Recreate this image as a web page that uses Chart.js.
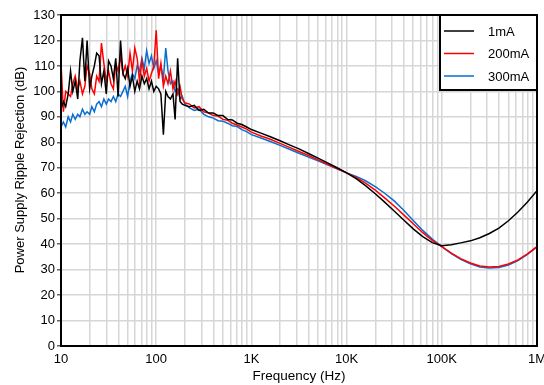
<!DOCTYPE html>
<html>
<head>
<meta charset="utf-8">
<script src="https://cdn.jsdelivr.net/npm/chart.js@4"></script>
<style>
  html, body { margin: 0; padding: 0; background: #fff; }
  canvas { display: block; }
</style>
</head>
<body>
<canvas id="psrrChart" width="544" height="385"></canvas>
<script>
// frequency points (Hz)
const freqs = [
    10, 10.6, 11.2, 11.9, 12.6, 13.3, 14.1, 15, 15.8, 16.8, 17.8, 18.8,
    20, 21.1, 22.4, 23.7, 25.1, 26.6, 28.2, 29.9, 31.6, 33.5, 35.5, 37.6,
    39.8, 42.2, 44.7, 47.3, 50.1, 53.1, 56.2, 59.6, 63.1, 66.8, 70.8, 75,
    79.4, 84.1, 89.1, 94.4, 100, 106, 112, 119, 126, 133, 141, 150,
    158, 168, 178, 188, 200,
    224, 251, 282, 316, 355, 398, 447, 501, 562, 631, 708, 794, 891, 1000,
    1260, 1580, 2000, 2510, 3160, 3980, 5010, 6310, 7940, 10000,
    12600, 15800, 20000, 25100, 31600, 39800, 50100, 63100, 79400, 100000,
    126000, 158000, 200000, 251000, 316000, 398000, 501000, 631000, 794000, 1000000
];

// PSRR (dB) per load current
const psrr1mA = [
    93, 96, 94, 99, 108, 100, 104, 97, 112, 121, 104, 120,
    101, 106, 110, 115, 114, 103, 108, 99, 112, 110, 105, 113,
    98, 120, 107, 105, 109, 102, 106, 100, 104, 101, 106, 103,
    105, 101, 104, 100, 102, 101, 99, 83, 100, 98, 97, 99,
    89, 113, 96, 95, 94.5,
    94, 94.5, 92.5, 93, 91.5, 91.5, 90.5, 90.5, 89, 88.8, 87.5, 87, 86, 85,
    83.6, 82.2, 80.6, 79, 77.4, 75.6, 73.8, 71.9, 70, 68,
    65.7, 63, 59.8, 56.5, 53, 49.5, 46, 43, 40.6, 39.4,
    39.8, 40.5, 41.3, 42.5, 44.2, 46.3, 49.2, 52.6, 56.6, 61
];

const psrr200mA = [
    111, 92, 100, 99, 98, 103, 106, 101, 104, 99, 102, 110,
    107, 101, 99, 106, 104, 119, 111, 104, 108, 103, 101, 111,
    108, 114, 107, 110, 106, 115, 108, 117, 113, 104, 112, 106,
    109, 104, 107, 110, 124, 105, 111, 102, 106, 103, 108, 101,
    104, 99, 102, 97, 95.5,
    95, 93.5, 94, 92, 91.5, 90.5, 90.3, 89, 88.7, 87.5, 86.8, 86, 85.2, 84,
    82.5, 81.2, 79.6, 78, 76.4, 74.8, 73.1, 71.4, 69.7, 68,
    66.2, 64, 61.2, 58.2, 55, 51.5, 48, 44.5, 41.5, 39,
    36.5, 34.3, 32.6, 31.4, 31, 31.2, 32.2, 33.8, 36.2, 39
];

const psrr300mA = [
    86, 88, 86, 90, 88, 91, 89, 91, 90, 93, 91, 92,
    91, 94, 92, 95, 96, 94, 97, 95, 97, 96, 98, 96,
    99, 98, 100, 102, 98, 104, 107, 105, 110, 108, 113, 109,
    116, 111, 114, 109, 112, 107, 110, 105, 117, 108, 103, 104,
    100, 101, 97, 98, 95,
    93.5, 92.5, 93, 91, 90, 89.5, 88.5, 88.3, 87.5, 86.5, 86.2, 85, 84.2, 83,
    81.7, 80.3, 78.8, 77.3, 75.7, 74.2, 72.7, 71.2, 69.6, 68,
    66.6, 64.9, 62.6, 60, 57, 53.3, 49.3, 45.4, 42, 39,
    36.3, 34, 32.3, 31, 30.6, 30.8, 31.8, 33.5, 36, 39
];

const seriesNames = ['1mA', '200mA', '300mA'];
const seriesColors = ['#000000', '#ff0000', '#0a6ed1'];

// axis ticks
const xDecades = [10, 100, 1000, 10000, 100000, 1000000];
const xDecadeLabels = ['10', '100', '1K', '10K', '100K', '1M'];
const yTicks = [0, 10, 20, 30, 40, 50, 60, 70, 80, 90, 100, 110, 120, 130];
const yTitle = 'Power Supply Ripple Rejection (dB)';

const FONT = '"Liberation Sans", Arial, sans-serif';

function toPoints(values) {
    return freqs.map((f, i) => ({ x: f, y: values[i] }));
}

const allSeries = [psrr1mA, psrr200mA, psrr300mA];

// thick frame around the plot, the y title and the boxed legend
const framePlugin = {
    id: 'frameAndLegend',
    afterDraw(chart) {
        const ctx = chart.ctx;
        const a = chart.chartArea;
        ctx.save();
        ctx.strokeStyle = '#000';
        ctx.lineWidth = 2;
        ctx.strokeRect(a.left, a.top, a.right - a.left, a.bottom - a.top);

        // y axis title (sits a bit above the plot centre in the original)
        ctx.save();
        ctx.translate(20, 170);
        ctx.rotate(-Math.PI / 2);
        ctx.font = '13px ' + FONT;
        ctx.fillStyle = '#000';
        ctx.textAlign = 'center';
        ctx.textBaseline = 'middle';
        ctx.fillText(yTitle, 0, 0);
        ctx.restore();

        const boxW = 97, boxH = 75;
        const bx = a.right - boxW, by = a.top;
        ctx.fillStyle = '#fff';
        ctx.fillRect(bx, by, boxW, boxH);
        ctx.strokeRect(bx, by, boxW, boxH);

        ctx.font = '13px ' + FONT;
        ctx.textBaseline = 'middle';
        ctx.textAlign = 'left';
        chart.data.datasets.forEach((ds, i) => {
            const y = by + 16 + i * 22.5;
            ctx.strokeStyle = ds.borderColor;
            ctx.lineWidth = 1.5;
            ctx.beginPath();
            ctx.moveTo(bx + 4, y);
            ctx.lineTo(bx + 34, y);
            ctx.stroke();
            ctx.fillStyle = '#000';
            ctx.fillText(ds.label, bx + 48, y + 1);
        });
        ctx.restore();
    }
};

const ctx = document.getElementById('psrrChart').getContext('2d');
new Chart(ctx, {
    type: 'line',
    data: {
        datasets: allSeries.map((vals, i) => ({
            label: seriesNames[i],
            data: toPoints(vals),
            borderColor: seriesColors[i],
            borderWidth: 1.5,
            pointRadius: 0,
            tension: 0,
            fill: false
        }))
    },
    options: {
        responsive: false,
        animation: false,
        devicePixelRatio: 1,
        layout: { padding: { top: 15, right: 7, left: 0, bottom: 0 } },
        plugins: {
            legend: { display: false },
            tooltip: { enabled: false }
        },
        scales: {
            x: {
                type: 'logarithmic',
                min: 10,
                max: 1000000,
                afterBuildTicks(scale) {
                    const ticks = [];
                    xDecades.forEach(d => {
                        for (let m = 1; m <= 9; m++) {
                            const v = d * m;
                            if (v <= 1000000) ticks.push({ value: v });
                        }
                    });
                    scale.ticks = ticks;
                },
                afterFit(scale) {
                    scale.height = 39;
                    scale.paddingLeft = 0;
                    scale.paddingRight = 0;
                },
                grid: { color: '#d6d6d6', lineWidth: 1.5, drawTicks: false },
                border: { display: false },
                ticks: {
                    autoSkip: false,
                    maxRotation: 0,
                    padding: 6,
                    color: '#000',
                    font: { family: FONT, size: 13 },
                    callback(value) {
                        const idx = xDecades.indexOf(value);
                        return idx >= 0 ? xDecadeLabels[idx] : '';
                    }
                },
                title: {
                    display: true,
                    text: 'Frequency (Hz)',
                    color: '#000',
                    font: { family: FONT, size: 13.5 },
                    padding: { top: 0, bottom: 1 }
                }
            },
            y: {
                min: 0,
                max: 130,
                afterBuildTicks(scale) {
                    scale.ticks = yTicks.map(v => ({ value: v }));
                },
                afterFit(scale) {
                    scale.width = 61;
                },
                grid: { color: '#d6d6d6', lineWidth: 1.5, tickLength: 4, tickColor: '#666' },
                border: { display: false },
                ticks: {
                    padding: 2,
                    color: '#000',
                    font: { family: FONT, size: 13 }
                },
                title: { display: false }
            }
        }
    },
    plugins: [framePlugin]
});
</script>
</body>
</html>
